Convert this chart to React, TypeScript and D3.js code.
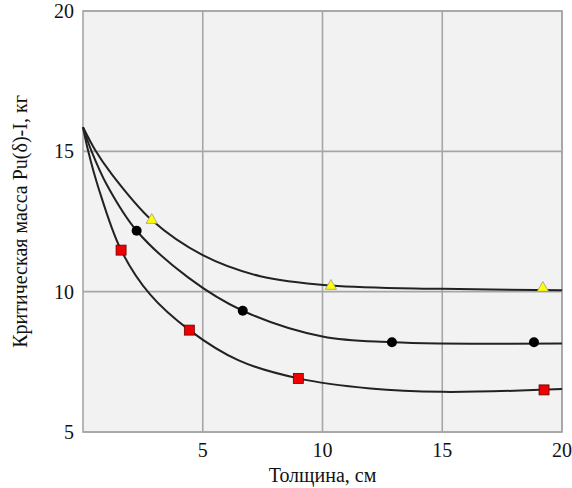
import React from "react";
import * as d3 from "d3";

const xTicks = [5, 10, 15, 20];
const yTicks = [5, 10, 15, 20];

// Curves
const curveTriangleX = [0, 0.54, 1.1, 2.87, 5, 7.4, 10.35, 15, 20];
const curveTriangleY = [15.86, 15.0, 14.3, 12.55, 11.3, 10.55, 10.22, 10.1, 10.05];
const curveCircleX = [0, 0.36, 1.0, 2.24, 4.4, 6.67, 10, 12.9, 20];
const curveCircleY = [15.86, 15.0, 13.8, 12.17, 10.5, 9.32, 8.4, 8.2, 8.15];
const curveSquareX = [0, 0.22, 0.63, 1.59, 2.8, 4.44, 6.5, 8.99, 12, 15, 20];
const curveSquareY = [15.86, 15.0, 13.74, 11.48, 9.9, 8.63, 7.55, 6.91, 6.55, 6.43, 6.53];

// Markers
const triX = [2.87, 10.35, 19.2];
const triY = [12.55, 10.2, 10.13];
const circX = [2.24, 6.67, 12.9, 18.83];
const circY = [12.17, 9.32, 8.2, 8.2];
const sqX = [1.59, 4.44, 8.99, 19.25];
const sqY = [11.48, 8.63, 6.91, 6.5];

const W = 572;
const H = 488;
const L = 83, R = 562, T = 11, B = 432;

export default function App() {
  const x = d3.scaleLinear().domain([0, 20]).range([L, R]);
  const y = d3.scaleLinear().domain([5, 20]).range([B, T]);
  const line = d3
    .line<[number, number]>()
    .x((d) => x(d[0]))
    .y((d) => y(d[1]))
    .curve(d3.curveCatmullRom.alpha(0.5));
  const zip = (a: number[], b: number[]) => a.map((v, i) => [v, b[i]] as [number, number]);
  const curves = [
    zip(curveTriangleX, curveTriangleY),
    zip(curveCircleX, curveCircleY),
    zip(curveSquareX, curveSquareY),
  ];
  const font = "'Liberation Serif', 'Times New Roman', serif";
  const tri = d3.symbol().type(d3.symbolTriangle).size(55)();
  return (
    <svg width={W} height={H} style={{ position: "absolute", left: 0, top: 0 }}>
      <rect x={0} y={0} width={W} height={H} fill="#ffffff" />
      <rect x={L} y={T} width={R - L} height={B - T} fill="#f2f2f2" />
      {xTicks.map((t) => (
        <line key={"gx" + t} x1={x(t)} x2={x(t)} y1={T} y2={B} stroke="#a6a6a6" strokeWidth={1.6} />
      ))}
      {yTicks.map((t) => (
        <line key={"gy" + t} x1={L} x2={R} y1={y(t)} y2={y(t)} stroke="#a6a6a6" strokeWidth={1.6} />
      ))}
      <rect x={L} y={T} width={R - L} height={B - T} fill="none" stroke="#a6a6a6" strokeWidth={1.6} />
      {curves.map((c, i) => (
        <path key={"c" + i} d={line(c) || ""} fill="none" stroke="#222" strokeWidth={2} />
      ))}
      {triX.map((v, i) => (
        <path
          key={"t" + i}
          d={tri || ""}
          transform={`translate(${x(v)},${y(triY[i])})`}
          fill="#ffff00"
          stroke="#999"
          strokeWidth={0.8}
        />
      ))}
      {circX.map((v, i) => (
        <circle key={"ci" + i} cx={x(v)} cy={y(circY[i])} r={5} fill="#000" />
      ))}
      {sqX.map((v, i) => (
        <rect
          key={"s" + i}
          x={x(v) - 5}
          y={y(sqY[i]) - 5}
          width={10}
          height={10}
          fill="#ee0000"
          stroke="#600"
          strokeWidth={0.8}
        />
      ))}
      {yTicks.map((t) => (
        <text
          key={"ty" + t}
          x={74}
          y={y(t)}
          dy="0.35em"
          textAnchor="end"
          fontFamily={font}
          fontSize={20}
          fill="#111"
        >
          {t}
        </text>
      ))}
      {xTicks.map((t) => (
        <text
          key={"tx" + t}
          x={x(t)}
          y={457}
          textAnchor="middle"
          fontFamily={font}
          fontSize={20}
          fill="#111"
        >
          {t}
        </text>
      ))}
      <text x={(L + R) / 2} y={482} textAnchor="middle" fontFamily={font} fontSize={20} fill="#111">
        Толщина, см
      </text>
      <text
        transform={`translate(27,${(T + B) / 2}) rotate(-90)`}
        textAnchor="middle"
        fontFamily={font}
        fontSize={20}
        fill="#111"
      >
        Критическая масса Pu(δ)-I, кг
      </text>
    </svg>
  );
}
